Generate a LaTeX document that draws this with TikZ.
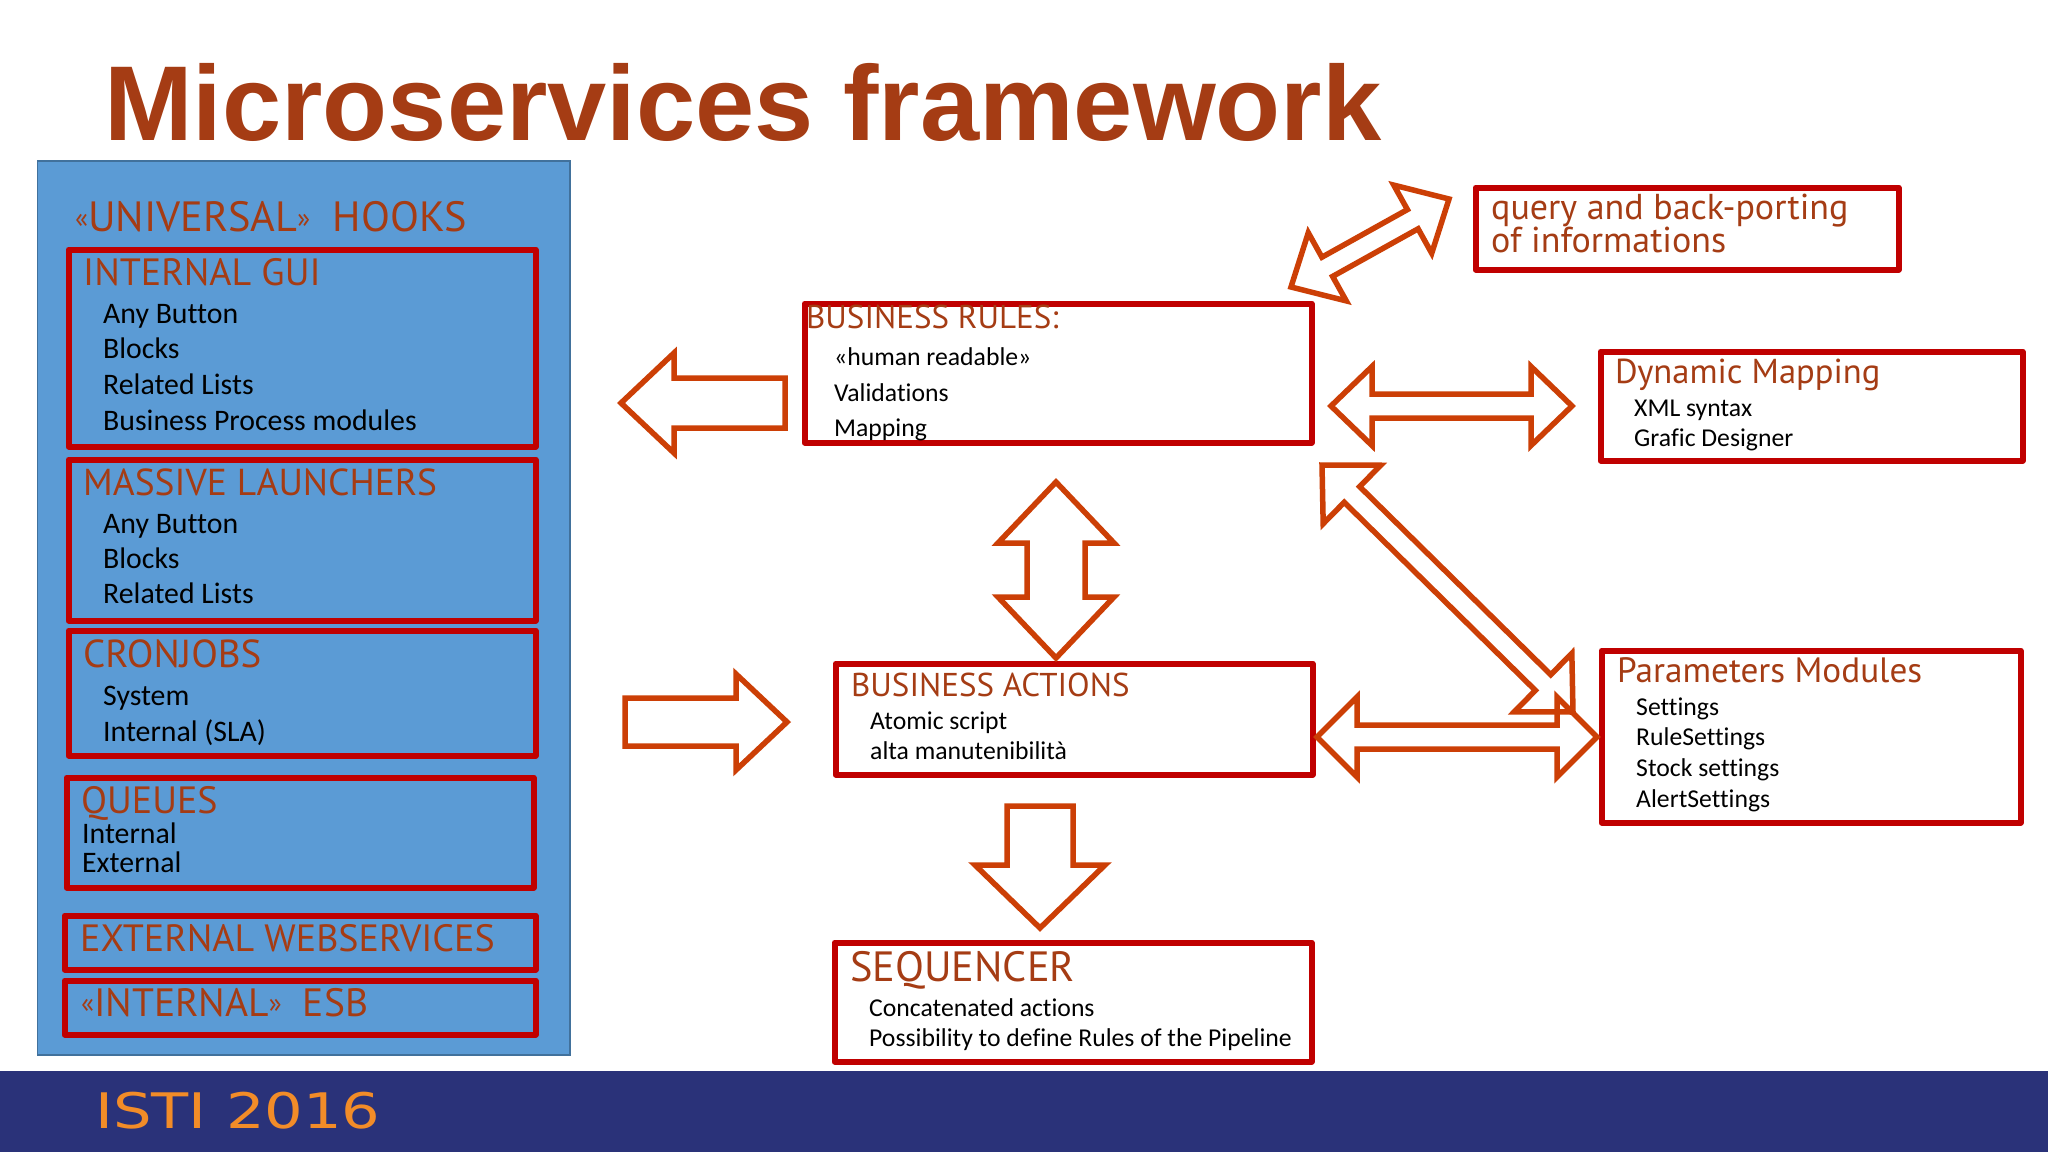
\documentclass[tikz,border=0pt]{standalone}
\usepackage{fontspec}
\usetikzlibrary{calc}
\setmainfont[Ligatures=NoCommon]{Carlito}
\newfontfamily\headfont{PT Sans}
\newfontfamily\titlefont{Liberation Sans}
\newfontfamily\footfont[FakeStretch=1.24]{DejaVu Sans}
\newcommand{\tinyquote}[1]{\raisebox{4pt}{\fontsize{27}{27}\selectfont #1}}
\definecolor{panelblue}{HTML}{5B9BD5}
\definecolor{panelline}{HTML}{41719C}
\definecolor{framered}{HTML}{C00000}
\definecolor{arrowred}{HTML}{CC3F06}
\definecolor{headrust}{HTML}{A53C14}
\definecolor{bandblue}{HTML}{2A3279}
\definecolor{footorange}{HTML}{F28C28}
\tikzset{
  framebox/.style={draw=framered,line width=6pt,line join=round,anchor=north west,inner sep=0pt,outer sep=0pt},
  headtxt/.style={anchor=base west,inner sep=0pt,text=headrust,font=\headfont\fontsize{38}{38}\selectfont},
  bodytxt/.style={anchor=base west,inner sep=0pt,text=black,font=\fontsize{29.8}{30}\selectfont},
  smalltxt/.style={bodytxt,font=\fontsize{25.7}{26}\selectfont},
  blockline/.style={draw=arrowred,line width=5.5pt,miter limit=10},
  oneway/.style n args={3}{to path={
    ($(\tikztostart)!#3!90:(\tikztotarget)$)
    -- ($($(\tikztotarget)!#1!(\tikztostart)$)!#3!-90:(\tikztostart)$)
    -- ($($(\tikztotarget)!#1!(\tikztostart)$)!#2!-90:(\tikztostart)$)
    -- (\tikztotarget)
    -- ($($(\tikztotarget)!#1!(\tikztostart)$)!#2!90:(\tikztostart)$)
    -- ($($(\tikztotarget)!#1!(\tikztostart)$)!#3!90:(\tikztostart)$)
    -- ($(\tikztostart)!#3!-90:(\tikztotarget)$) -- cycle}},
  bothway/.style n args={3}{to path={
    (\tikztostart)
    -- ($($(\tikztostart)!#1!(\tikztotarget)$)!#2!90:(\tikztotarget)$)
    -- ($($(\tikztostart)!#1!(\tikztotarget)$)!#3!90:(\tikztotarget)$)
    -- ($($(\tikztotarget)!#1!(\tikztostart)$)!#3!-90:(\tikztostart)$)
    -- ($($(\tikztotarget)!#1!(\tikztostart)$)!#2!-90:(\tikztostart)$)
    -- (\tikztotarget)
    -- ($($(\tikztotarget)!#1!(\tikztostart)$)!#2!90:(\tikztostart)$)
    -- ($($(\tikztotarget)!#1!(\tikztostart)$)!#3!90:(\tikztostart)$)
    -- ($($(\tikztostart)!#1!(\tikztotarget)$)!#3!-90:(\tikztotarget)$)
    -- ($($(\tikztostart)!#1!(\tikztotarget)$)!#2!-90:(\tikztotarget)$)
    -- cycle}}
}
\begin{document}
\begin{tikzpicture}[x=1pt,y=-1pt]
  \useasboundingbox (0,0) rectangle (2048,1152);
  \fill[white] (0,0) rectangle (2048,1152);
  \fill[bandblue] (0,1071) rectangle (2048,1152);
  \draw[panelline,fill=panelblue,line width=1.5pt] (37.5,161) rectangle (570,1055);

  \node[anchor=base west,inner sep=0pt,text=headrust,font=\titlefont\bfseries\fontsize{106.4}{107}\selectfont] (title) at (104,140) {Microservices framework};
  \node[anchor=base west,inner sep=0pt,text=footorange,font=\footfont\fontsize{49}{49}\selectfont] (foot) at (95,1128) {ISTI 2016};

  % left panel
  \node[headtxt,font=\headfont\fontsize{42.3}{43}\selectfont] (hooks) at (75,231) {\tinyquote{«}UNIVERSAL\tinyquote{»}\ \ HOOKS};

  \node[framebox,minimum width=467pt,minimum height=197pt] (guibox) at (68.5,249.5) {};
  \node[headtxt] (guihead) at (83,285) {INTERNAL GUI};
  \node[bodytxt] (gui1) at (103,323) {Any Button};
  \node[bodytxt] (gui2) at (103,358) {Blocks};
  \node[bodytxt] (gui3) at (103,394) {Related Lists};
  \node[bodytxt] (gui4) at (103,430) {Business Process modules};

  \node[framebox,minimum width=467pt,minimum height=161pt] (massbox) at (68.5,459.5) {};
  \node[headtxt,font=\headfont\fontsize{37.5}{38}\selectfont] (masshead) at (83,495) {MASSIVE LAUNCHERS};
  \node[bodytxt] (mass1) at (103,533) {Any Button};
  \node[bodytxt] (mass2) at (103,568) {Blocks};
  \node[bodytxt] (mass3) at (103,603) {Related Lists};

  \node[framebox,minimum width=467pt,minimum height=125pt] (cronbox) at (68.5,630.5) {};
  \node[headtxt,font=\headfont\fontsize{39}{39}\selectfont] (cronhead) at (83,667) {CRONJOBS};
  \node[bodytxt] (cron1) at (103,705) {System};
  \node[bodytxt] (cron2) at (103,741) {Internal (SLA)};

  \node[framebox,minimum width=467pt,minimum height=110pt] (queuebox) at (66.5,777.5) {};
  \node[headtxt] (queuehead) at (81,813) {QUEUES};
  \node[bodytxt] (queue1) at (82,843) {Internal};
  \node[bodytxt] (queue2) at (82,872) {External};

  \node[framebox,minimum width=471pt,minimum height=54pt] (wsbox) at (64.5,915.5) {};
  \node[headtxt] (wshead) at (80,951) {EXTERNAL WEBSERVICES};
  \node[framebox,minimum width=471pt,minimum height=54pt] (esbbox) at (64.5,980.5) {};
  \node[headtxt,font=\headfont\fontsize{39.5}{40}\selectfont] (esbhead) at (81,1016) {\tinyquote{«}INTERNAL\tinyquote{»}\ \ ESB};

  % middle column
  \node[framebox,minimum width=507pt,minimum height=139pt] (rulesbox) at (804.5,303.5) {};
  \node[headtxt,font=\headfont\fontsize{33}{33}\selectfont] (ruleshead) at (806,328) {BUSINESS RULES:};
  \node[smalltxt] (rules1) at (834,365) {«human readable»};
  \node[smalltxt] (rules2) at (834,401) {Validations};
  \node[smalltxt] (rules3) at (834,436) {Mapping};

  \node[framebox,minimum width=477pt,minimum height=111pt] (actionbox) at (835.5,663.5) {};
  \node[headtxt,font=\headfont\fontsize{33}{33}\selectfont] (actionhead) at (851,696) {BUSINESS ACTIONS};
  \node[smalltxt] (action1) at (870,729) {Atomic script};
  \node[smalltxt] (action2) at (870,759) {alta manutenibilità};

  \node[framebox,minimum width=477pt,minimum height=119pt] (seqbox) at (834.5,942.5) {};
  \node[headtxt,font=\headfont\fontsize{42.3}{43}\selectfont] (seqhead) at (850,981) {SEQUENCER};
  \node[smalltxt] (seq1) at (869,1016) {Concatenated actions};
  \node[smalltxt] (seq2) at (869,1046) {Possibility to define Rules of the Pipeline};

  % right column
  \node[framebox,minimum width=423pt,minimum height=82pt] (querybox) at (1475.5,187.5) {};
  \node[headtxt,font=\headfont\fontsize{36}{36}\selectfont] (query1) at (1491,219) {query and back-porting};
  \node[headtxt,font=\headfont\fontsize{36}{36}\selectfont] (query2) at (1491,252) {of informations};

  \node[framebox,minimum width=422pt,minimum height=109pt] (dynbox) at (1600.5,351.5) {};
  \node[headtxt,font=\headfont\fontsize{34.6}{35}\selectfont] (dynhead) at (1615,383) {Dynamic Mapping};
  \node[smalltxt] (dyn1) at (1634,416) {XML syntax};
  \node[smalltxt] (dyn2) at (1634,446) {Grafic Designer};

  \node[framebox,minimum width=419pt,minimum height=172pt] (parambox) at (1601.5,650.5) {};
  \node[headtxt,font=\headfont\fontsize{35.2}{36}\selectfont] (paramhead) at (1617,682) {Parameters Modules};
  \node[smalltxt] (param1) at (1636,715) {Settings};
  \node[smalltxt] (param2) at (1636,745) {RuleSettings};
  \node[smalltxt] (param3) at (1636,776) {Stock settings};
  \node[smalltxt] (param4) at (1636,807) {AlertSettings};

  % block arrows
  \coordinate (leftTail) at (785,403);
  \coordinate (leftTip) at (621,403);
  \coordinate (inTail) at (625,722);
  \coordinate (inTip) at (787,722);
  \coordinate (rulesUp) at (1056,482);
  \coordinate (actionsUp) at (1056,658);
  \coordinate (seqTail) at (1040,806);
  \coordinate (seqTip) at (1040,928);
  \coordinate (rulesQuery) at (1291,287);
  \coordinate (queryRules) at (1449,199);
  \coordinate (rulesDyn) at (1331,406);
  \coordinate (dynRules) at (1572,406);
  \coordinate (rulesParam) at (1322,465);
  \coordinate (paramRules) at (1573,712);
  \coordinate (actionsParam) at (1317,737);
  \coordinate (paramActions) at (1597,737);

  \draw[blockline] (leftTail) to[oneway={53pt}{50pt}{25pt}] (leftTip);
  \draw[blockline] (inTail) to[oneway={51pt}{48pt}{24pt}] (inTip);
  \draw[blockline] (seqTail) to[oneway={63pt}{65pt}{33pt}] (seqTip);
  \draw[blockline] (rulesUp) to[bothway={61pt}{58pt}{29pt}] (actionsUp);
  \draw[blockline] (rulesQuery) to[bothway={41.5pt}{39pt}{11pt}] (queryRules);
  \draw[blockline] (rulesDyn) to[bothway={41pt}{39.5pt}{12pt}] (dynRules);
  \draw[blockline] (rulesParam) to[bothway={42pt}{41pt}{11pt}] (paramRules);
  \draw[blockline] (actionsParam) to[bothway={40pt}{40pt}{12pt}] (paramActions);
\end{tikzpicture}
\end{document}
